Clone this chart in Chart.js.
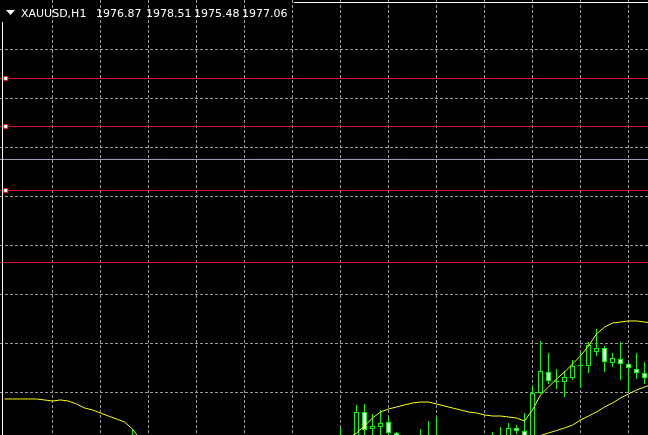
<!DOCTYPE html>
<html><head><meta charset="utf-8">
<script src="https://cdn.jsdelivr.net/npm/chart.js@4"></script>
<style>html,body{margin:0;padding:0;background:#000;overflow:hidden}canvas{display:block}</style>
</head><body>
<canvas id="c" width="648" height="435"></canvas>
<script>
// ---- data ----
const symbolLabel = 'XAUUSD,H1';
const ohlcLabel = ['1976.87', '1978.51', '1975.48', '1977.06'];

const open = [1969.4,1969.0,1968.5,1968.9,1969.6,1969.1,1968.2,1967.3,1968.0,1968.7,1968.3,1967.6,1968.2,1969.3,1968.9,1969.5,1969.8,1970.1,1969.2,1967.9,1966.6,1965.9,1966.3,1965.5,1964.4,1965.1,1964.8,1963.7,1964.5,1965.4,1965.0,1966.2,1966.9,1966.4,1967.2,1968.0,1967.5,1968.3,1969.0,1968.6,1969.5,1969.9,1969.4,1970.3,1969.9,1973.06,1971.33,1971.53,1972.04,1970.92,1970.3,1969.6,1970.0,1970.4,1970.2,1969.9,1969.4,1969.8,1970.1,1969.6,1970.2,1969.8,1970.4,1970.6,1971.43,1971.12,1970.6,1975.00,1977.14,1976.12,1976.12,1976.53,1977.76,1977.76,1979.18,1979.59,1978.06,1978.47,1977.96,1977.45,1977.04,1976.87];
const high = [1970.2,1969.9,1969.3,1970.1,1970.3,1969.8,1968.9,1968.4,1969.2,1969.5,1969.0,1968.6,1969.7,1970.0,1969.8,1970.4,1971.22,1970.5,1969.6,1968.5,1967.4,1966.8,1967.1,1966.2,1965.6,1966.0,1965.4,1964.9,1965.8,1966.3,1966.6,1967.3,1967.8,1967.5,1968.4,1968.9,1968.6,1969.4,1969.8,1969.9,1970.3,1970.5,1971.43,1970.6,1973.78,1973.88,1972.86,1973.27,1972.55,1971.02,1970.6,1970.4,1971.33,1972.14,1972.55,1970.5,1970.2,1970.5,1970.6,1970.4,1970.6,1971.02,1971.53,1971.94,1971.73,1972.96,1975.71,1980.31,1979.08,1977.45,1977.24,1978.37,1979.08,1980.20,1981.53,1979.80,1979.08,1980.20,1978.06,1979.08,1978.16,1978.51];
const low = [1968.6,1968.2,1967.6,1968.3,1968.8,1967.9,1966.8,1966.5,1967.4,1967.9,1967.2,1966.9,1967.8,1968.5,1968.0,1968.7,1969.1,1968.9,1967.5,1966.2,1965.3,1964.7,1965.1,1963.9,1963.6,1964.3,1963.2,1962.8,1963.9,1964.6,1964.4,1965.5,1966.0,1965.7,1966.6,1967.1,1966.8,1967.7,1968.1,1968.0,1968.8,1969.0,1968.9,1969.5,1969.4,1970.51,1970.40,1970.40,1970.20,1969.80,1969.2,1968.8,1969.5,1969.9,1969.6,1969.0,1968.7,1969.1,1969.3,1968.9,1969.5,1969.3,1969.9,1970.2,1970.8,1970.3,1970.3,1974.90,1975.92,1975.41,1974.59,1976.33,1975.51,1977.04,1978.78,1977.14,1977.65,1976.33,1975.10,1976.43,1975.92,1975.48];
const close = [1969.0,1968.5,1968.9,1969.6,1969.1,1968.2,1967.3,1968.0,1968.7,1968.3,1967.6,1968.2,1969.3,1968.9,1969.5,1969.8,1970.1,1969.2,1967.9,1966.6,1965.9,1966.3,1965.5,1964.4,1965.1,1964.8,1963.7,1964.5,1965.4,1965.0,1966.2,1966.9,1966.4,1967.2,1968.0,1967.5,1968.3,1969.0,1968.6,1969.5,1969.9,1969.4,1970.3,1969.9,1973.06,1971.22,1971.63,1971.94,1970.92,1970.30,1969.6,1970.0,1970.4,1970.2,1969.9,1969.4,1969.8,1970.1,1969.6,1970.2,1969.8,1970.4,1970.6,1971.43,1971.12,1970.6,1975.00,1977.24,1976.22,1976.12,1976.63,1977.76,1977.80,1979.90,1979.59,1978.16,1978.57,1977.96,1977.55,1977.04,1976.53,1977.06];

const upperBand = [1974.39,1974.39,1974.39,1974.39,1974.39,1974.29,1974.18,1974.29,1974.18,1973.88,1973.47,1973.27,1972.96,1972.65,1972.35,1972.04,1971.33,1970.20,
  1969.6,1969.1,1968.7,1968.4,1968.2,1968.1,1968.0,1968.0,1968.1,1968.2,1968.3,1968.5,1968.6,1968.8,1968.9,1969.0,1969.1,1969.2,1969.3,1969.4,1969.5,1969.6,1969.7,1969.8,
  1969.9,1970.4,
  1970.92,1971.63,1972.45,1973.06,1973.37,1973.57,1973.78,1973.98,1974.08,1974.08,1973.88,1973.67,1973.47,1973.27,1973.06,1972.96,1972.76,1972.65,1972.65,1972.55,1972.45,1972.14,1973.27,1974.80,1975.61,1976.43,1977.14,1977.96,1978.78,1979.80,1981.02,1981.73,1982.14,1982.24,1982.35,1982.35,1982.24,1982.14];
const lowerBand = [1963.2,1963.1,1963.0,1962.9,1962.9,1962.8,1962.8,1962.7,1962.7,1962.6,1962.6,1962.5,1962.5,1962.6,1962.7,1962.8,1962.9,
  1962.8,1962.5,1962.1,1961.6,1961.1,1960.6,1960.2,1959.8,1959.6,1959.5,1959.5,1959.6,1959.8,1960.0,1960.3,1960.6,1960.9,1961.3,1961.7,1962.1,1962.5,1962.9,1963.3,1963.7,1964.1,1964.4,1964.7,
  1965.0,1965.2,1965.4,1965.6,1965.8,1966.0,1966.1,1966.2,1966.3,1966.4,1966.5,1966.6,1966.7,1966.8,1966.9,1967.0,1967.1,1967.2,1967.3,1967.4,1967.5,1967.6,1968.6,
  1970.66,1970.92,1971.17,1971.43,1971.73,1972.24,1972.65,1973.06,1973.57,1973.98,1974.49,1974.90,1975.31,1975.61,1975.90];

const gridPrices = [1975, 1980, 1985, 1990, 1995, 2000, 2005, 2010];
const gridBars = [6, 12, 18, 24, 30, 36, 42, 48, 54, 60, 66, 72, 78];
const redLevels = [2007.09, 2002.19, 1995.66, 1988.32];
const markedLevels = [2007.09, 2002.19, 1995.66];
const greyLevels = [1998.83];

// ---- view / style ----
const X_MIN = -0.5625, X_MAX = 80.4375;
const Y_MIN = 1970.714, Y_MAX = 2015.102;
const LIME = '#00ff00', GRID = '#9a9a9a', RED = '#e01414', GREY_LINE = '#9ea6b8', YELLOW = '#ffff00';

const idx = open.map((_, i) => i);
const wickData = idx.map(i => ({x: i, y: [low[i], high[i]]}));
const bodyData = idx.map(i => ({x: i, y: [Math.min(open[i], close[i]), Math.max(open[i], close[i])]}));
const bodyFill = idx.map(i => Math.abs(close[i] - open[i]) < 0.08 ? LIME : (close[i] > open[i] ? '#000000' : '#ffffff'));
const hline = (lv) => [{x: X_MIN, y: lv}, {x: X_MAX, y: lv}];

const datasets = [
  {type: 'line', data: idx.map(i => ({x: i, y: upperBand[i]})), borderColor: YELLOW, borderWidth: 1, pointRadius: 0, pointHoverRadius: 0, tension: 0, order: 0},
  {type: 'line', data: idx.map(i => ({x: i, y: lowerBand[i]})), borderColor: YELLOW, borderWidth: 1, pointRadius: 0, pointHoverRadius: 0, tension: 0, order: 0},
  {type: 'bar', data: bodyData, backgroundColor: bodyFill, borderColor: LIME, borderWidth: 1, borderSkipped: false,
   barThickness: 5, minBarLength: 1, grouped: false, inflateAmount: 0, order: 1},
  {type: 'bar', data: wickData, backgroundColor: LIME, borderWidth: 0, barThickness: 1, grouped: false, inflateAmount: 0, order: 2},
];
redLevels.forEach(lv => datasets.push({type: 'line', data: hline(lv), borderColor: RED, borderWidth: 1, pointRadius: 0, pointHoverRadius: 0, order: 3}));
greyLevels.forEach(lv => datasets.push({type: 'line', data: hline(lv), borderColor: GREY_LINE, borderWidth: 1, pointRadius: 0, pointHoverRadius: 0, order: 3}));
datasets.push({type: 'line', showLine: false, data: markedLevels.map(lv => ({x: 0.16, y: lv})),
  pointStyle: 'rect', pointRadius: 2.9, pointHoverRadius: 2.9, pointBackgroundColor: '#ffffff', pointBorderColor: RED, pointBorderWidth: 1, order: -1});

const frame = {
  id: 'frame',
  afterDraw(chart) {
    const ctx = chart.ctx;
    ctx.save();
    ctx.strokeStyle = '#ffffff';
    ctx.lineWidth = 1;
    ctx.beginPath();
    ctx.moveTo(2.5, 22); ctx.lineTo(2.5, 435);
    ctx.moveTo(294, 2.5); ctx.lineTo(648, 2.5);
    ctx.stroke();
    ctx.fillStyle = '#ffffff';
    ctx.beginPath();
    ctx.moveTo(6, 10); ctx.lineTo(15, 10); ctx.lineTo(10.5, 15); ctx.closePath();
    ctx.fill();
    ctx.font = '11px "DejaVu Sans"';
    ctx.textBaseline = 'alphabetic';
    ctx.fillText(symbolLabel, 21, 17);
    const xs = [96, 146, 194, 242];
    ohlcLabel.forEach((t, i) => ctx.fillText(t, xs[i], 17));
    ctx.restore();
  }
};

new Chart(document.getElementById('c'), {
  type: 'bar',
  data: {datasets},
  plugins: [frame],
  options: {
    responsive: false, animation: false, events: [],
    layout: {padding: 0, autoPadding: false},
    plugins: {legend: {display: false}, tooltip: {enabled: false}},
    scales: {
      x: {type: 'linear', min: X_MIN, max: X_MAX, offset: false,
          grid: {color: GRID, lineWidth: 1, drawTicks: false, offset: false},
          border: {display: false, dash: [3, 2]},
          ticks: {display: false},
          afterBuildTicks: s => { s.ticks = gridBars.map(v => ({value: v})); }},
      y: {type: 'linear', min: Y_MIN, max: Y_MAX,
          grid: {color: GRID, lineWidth: 1, drawTicks: false},
          border: {display: false, dash: [3, 2]},
          ticks: {display: false},
          afterBuildTicks: s => { s.ticks = gridPrices.map(v => ({value: v})); }}
    }
  }
});
</script>
</body></html>
